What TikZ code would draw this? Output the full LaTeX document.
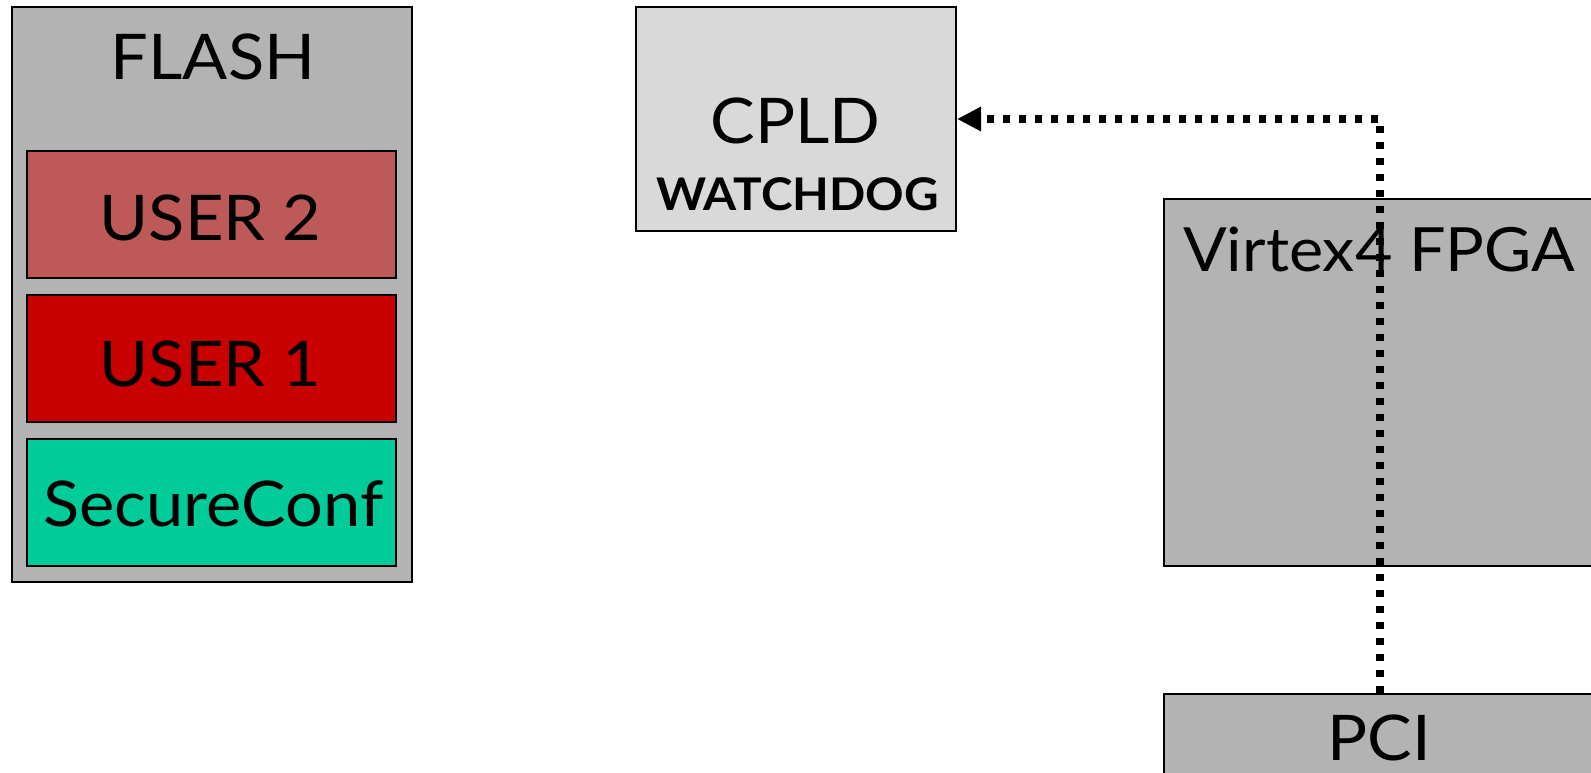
\documentclass[tikz,border=0pt]{standalone}
\usepackage{fontspec}
\setmainfont{Lato}[FakeStretch=1.06]
\usetikzlibrary{arrows.meta}
\definecolor{boxgray}{RGB}{179,179,179}
\definecolor{lightgray}{RGB}{217,217,217}
\definecolor{usertwo}{RGB}{190,89,89}
\definecolor{userone}{RGB}{200,0,0}
\definecolor{secure}{RGB}{0,204,153}
\tikzset{
  block/.style={draw=black, line width=2pt, rectangle, inner sep=0pt, anchor=north west},
  lbl/.style={inner sep=0pt, anchor=base, font=\fontsize{63}{63}\selectfont},
  smalllbl/.style={inner sep=0pt, anchor=base, font=\fontsize{45}{45}\selectfont\bfseries},
  link/.style={line width=7.5pt, dash pattern=on 7.5pt off 8.5pt,
    -{Triangle[length=24pt,width=23pt]}}
}
\begin{document}
\begin{tikzpicture}[x=1pt,y=-1pt]
  \useasboundingbox (0,0) rectangle (1591,772);
  \begin{scope}
    \clip (0,0) rectangle (1591,772);
    % flash memory with its three partitions
    \node[block, fill=boxgray, minimum width=400pt, minimum height=575pt] (flash) at (11,6) {};
    \node[block, fill=usertwo, minimum width=369pt, minimum height=127pt] (user2) at (26,150) {};
    \node[block, fill=userone, minimum width=369pt, minimum height=127pt] (user1) at (26,294) {};
    \node[block, fill=secure, minimum width=369pt, minimum height=127pt] (secconf) at (26,438) {};
    \node[lbl] (flashlbl) at (213,79) {FLASH};
    \node[lbl] (user2lbl) at (210.5,240) {USER 2};
    \node[lbl] (user1lbl) at (210.5,386) {USER 1};
    \node[lbl] (seclbl) at (213.5,526) {SecureConf};
    % configuration controller
    \node[block, fill=lightgray, minimum width=320pt, minimum height=224pt] (cpld) at (635,6) {};
    \node[lbl] (cpldlbl) at (795.5,143) {CPLD};
    \node[smalllbl] (wdlbl) at (797.5,210) {WATCHDOG};
    % FPGA and PCI bus
    \node[block, fill=boxgray, minimum width=432pt, minimum height=367pt] (fpga) at (1163,198) {};
    \node[lbl, anchor=base west, font=\fontsize{61}{61}\selectfont] (fpgalbl) at (1183,271) {Virtex4 FPGA};
    \node[block, fill=boxgray, minimum width=432pt, minimum height=120pt] (pci) at (1163,693) {};
    \node[lbl] (pcilbl) at (1379,760) {PCI};
    % watchdog signal from PCI to CPLD
    \coordinate (bend) at (pci.north |- cpld.east);
    \draw[link] (pci.north) -- (bend) -- (cpld.east);
  \end{scope}
\end{tikzpicture}
\end{document}
